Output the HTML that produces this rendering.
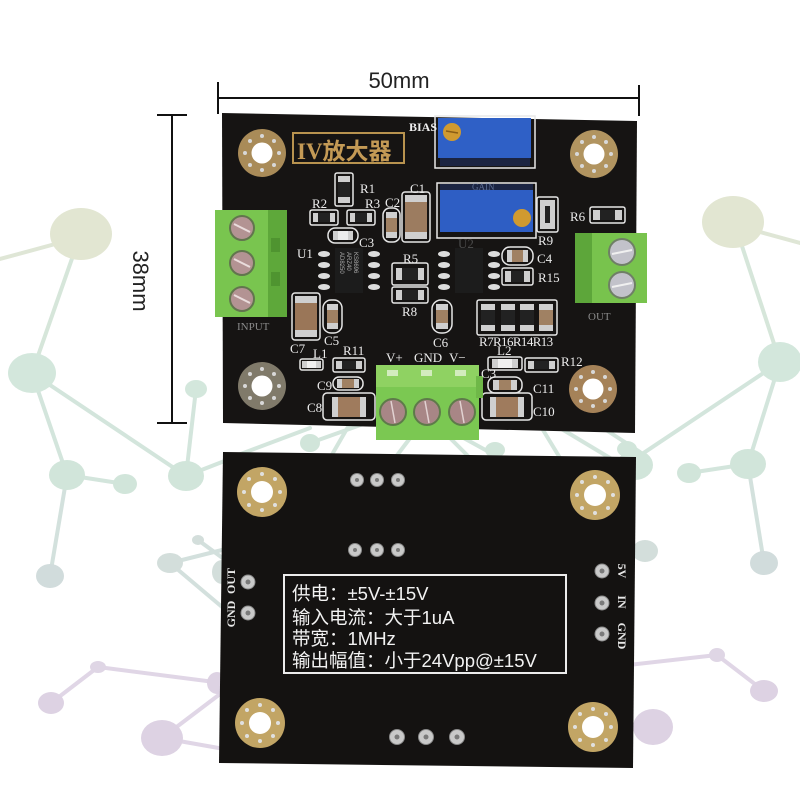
<!DOCTYPE html>
<html>
<head>
<meta charset="utf-8">
<style>
  html,body{margin:0;padding:0;background:#fff;}
  svg{display:block;}
  .lbl{font-family:"Liberation Serif",serif;font-size:13px;fill:#ececec;}
  .sans{font-family:"Liberation Sans","Noto Sans CJK SC",sans-serif;}
</style>
</head>
<body>
<svg width="800" height="800" viewBox="0 0 800 800" xmlns="http://www.w3.org/2000/svg">
  <rect width="800" height="800" fill="#ffffff"/>

  <!-- ===== background network ===== -->
  <g stroke-width="4" stroke-linecap="round" fill="none">
    <!-- left green -->
    <line x1="0" y1="259" x2="70" y2="240" stroke="#dfe6d6"/>
    <line x1="75" y1="250" x2="32" y2="373" stroke="#d6e6da"/>
    <line x1="32" y1="373" x2="67" y2="475" stroke="#d3e5dc"/>
    <line x1="32" y1="373" x2="186" y2="476" stroke="#d3e5dc"/>
    <line x1="67" y1="475" x2="125" y2="484" stroke="#d3e5dc"/>
    <line x1="67" y1="475" x2="50" y2="576" stroke="#d3e1dd"/>
    <line x1="186" y1="476" x2="196" y2="389" stroke="#d3e5dc"/>
    <line x1="186" y1="476" x2="240" y2="455" stroke="#d3e5dc"/>
    <line x1="170" y1="563" x2="230" y2="548" stroke="#d3e0dd"/>
    <line x1="170" y1="563" x2="228" y2="612" stroke="#d3e0dd"/>
    <line x1="198" y1="540" x2="228" y2="562" stroke="#d3e0dd"/>
    <!-- left purple -->
    <line x1="51" y1="703" x2="98" y2="667" stroke="#e0d6e6"/>
    <line x1="98" y1="667" x2="230" y2="684" stroke="#e0d6e6"/>
    <line x1="162" y1="738" x2="228" y2="688" stroke="#e0d6e6"/>
    <line x1="162" y1="738" x2="230" y2="750" stroke="#e0d6e6"/>
    <!-- right green -->
    <line x1="760" y1="232" x2="800" y2="243" stroke="#dfe6d6"/>
    <line x1="740" y1="240" x2="780" y2="362" stroke="#d6e6da"/>
    <line x1="780" y1="362" x2="748" y2="464" stroke="#d3e5dc"/>
    <line x1="780" y1="362" x2="630" y2="462" stroke="#d3e5dc"/>
    <line x1="689" y1="473" x2="748" y2="464" stroke="#d3e5dc"/>
    <line x1="748" y1="464" x2="764" y2="563" stroke="#d3e1dd"/>
    <!-- right purple -->
    <line x1="717" y1="655" x2="764" y2="691" stroke="#e0d6e6"/>
    <line x1="717" y1="655" x2="620" y2="666" stroke="#e0d6e6"/>
    <!-- middle gap lines -->
    <line x1="230" y1="458" x2="310" y2="428" stroke="#d3e5dc"/>
    <line x1="310" y1="443" x2="380" y2="418" stroke="#d3e5dc"/>
    <line x1="330" y1="458" x2="352" y2="420" stroke="#d3e5dc"/>
    <line x1="395" y1="458" x2="420" y2="425" stroke="#d3e5dc"/>
    <line x1="440" y1="425" x2="500" y2="458" stroke="#d3e5dc"/>
    <line x1="470" y1="458" x2="440" y2="428" stroke="#d3e5dc"/>
    <line x1="540" y1="425" x2="560" y2="458" stroke="#d3e5dc"/>
    <line x1="560" y1="428" x2="610" y2="458" stroke="#d3e5dc"/>
    <line x1="600" y1="426" x2="640" y2="452" stroke="#d3e5dc"/>
  </g>
  <g>
    <ellipse cx="81" cy="234" rx="31" ry="26" fill="#e2e6d2"/>
    <ellipse cx="32" cy="373" rx="24" ry="20" fill="#d3e7dc"/>
    <ellipse cx="67" cy="475" rx="18" ry="15" fill="#d1e5da"/>
    <ellipse cx="186" cy="476" rx="18" ry="15" fill="#d1e5da"/>
    <ellipse cx="125" cy="484" rx="12" ry="10" fill="#d1e5da"/>
    <ellipse cx="196" cy="389" rx="11" ry="9" fill="#d3e7dc"/>
    <ellipse cx="50" cy="576" rx="14" ry="12" fill="#d1dcdc"/>
    <ellipse cx="170" cy="563" rx="13" ry="10" fill="#d3dedb"/>
    <ellipse cx="198" cy="540" rx="6" ry="5" fill="#d3dedb"/>
    <ellipse cx="222" cy="572" rx="10" ry="12" fill="#d3dedb"/>
    <ellipse cx="98" cy="667" rx="8" ry="6" fill="#dfd6e5"/>
    <ellipse cx="51" cy="703" rx="13" ry="11" fill="#ddd2e3"/>
    <ellipse cx="162" cy="738" rx="21" ry="18" fill="#ddd2e3"/>
    <ellipse cx="217" cy="683" rx="10" ry="11" fill="#ddd2e3"/>

    <ellipse cx="733" cy="222" rx="31" ry="26" fill="#e2e6d2"/>
    <ellipse cx="780" cy="362" rx="22" ry="20" fill="#d3e7dc"/>
    <ellipse cx="748" cy="464" rx="18" ry="15" fill="#d1e5da"/>
    <ellipse cx="635" cy="465" rx="18" ry="15" fill="#d1e5da"/>
    <ellipse cx="689" cy="473" rx="12" ry="10" fill="#d1e5da"/>
    <ellipse cx="764" cy="563" rx="14" ry="12" fill="#d1dcdc"/>
    <ellipse cx="645" cy="551" rx="13" ry="11" fill="#d3dedb"/>
    <ellipse cx="717" cy="655" rx="8" ry="7" fill="#dfd6e5"/>
    <ellipse cx="764" cy="691" rx="14" ry="11" fill="#ddd2e3"/>
    <ellipse cx="653" cy="727" rx="20" ry="18" fill="#ddd2e3"/>

    <ellipse cx="310" cy="443" rx="10" ry="9" fill="#d1e5da"/>
    <ellipse cx="495" cy="450" rx="10" ry="8" fill="#d1e5da"/>
    <ellipse cx="627" cy="449" rx="10" ry="8" fill="#d1e5da"/>
  </g>

  <!-- ===== dimension lines ===== -->
  <g stroke="#111" stroke-width="2">
    <line x1="218" y1="98" x2="639" y2="98"/>
    <line x1="218" y1="82" x2="218" y2="114"/>
    <line x1="639" y1="85" x2="639" y2="116"/>
    <line x1="172" y1="115" x2="172" y2="423"/>
    <line x1="157" y1="115" x2="187" y2="115"/>
    <line x1="157" y1="423" x2="187" y2="423"/>
  </g>
  <text x="399" y="88" text-anchor="middle" class="sans" font-size="22" fill="#222">50mm</text>
  <text transform="translate(133,281) rotate(90)" text-anchor="middle" class="sans" font-size="22" fill="#222">38mm</text>

  <!-- ===== TOP BOARD ===== -->
  <polygon points="222,113 637,121 635,433 223,423" fill="#161413"/>

  <!-- mounting holes -->
  <g>
    <circle cx="262" cy="153" r="24" fill="#a98b58"/>
    <circle cx="262" cy="153" r="10.5" fill="#fff"/>
    <circle cx="594" cy="154" r="24" fill="#b19460"/>
    <circle cx="594" cy="154" r="10.5" fill="#fff"/>
    <circle cx="262" cy="386" r="24" fill="#807a6a"/>
    <circle cx="262" cy="386" r="10.5" fill="#fff"/>
    <circle cx="593" cy="389" r="24" fill="#a58258"/>
    <circle cx="593" cy="389" r="10.5" fill="#fff"/>
    <g fill="#d8d8d8">
      <circle cx="279" cy="153" r="2"/><circle cx="245" cy="153" r="2"/><circle cx="262" cy="136" r="2"/><circle cx="262" cy="170" r="2"/>
      <circle cx="274" cy="141" r="2"/><circle cx="250" cy="165" r="2"/><circle cx="274" cy="165" r="2"/><circle cx="250" cy="141" r="2"/>
      <circle cx="611" cy="154" r="2"/><circle cx="577" cy="154" r="2"/><circle cx="594" cy="137" r="2"/><circle cx="594" cy="171" r="2"/>
      <circle cx="606" cy="142" r="2"/><circle cx="582" cy="166" r="2"/><circle cx="606" cy="166" r="2"/><circle cx="582" cy="142" r="2"/>
      <circle cx="279" cy="386" r="2"/><circle cx="245" cy="386" r="2"/><circle cx="262" cy="369" r="2"/><circle cx="262" cy="403" r="2"/>
      <circle cx="274" cy="374" r="2"/><circle cx="250" cy="398" r="2"/><circle cx="274" cy="398" r="2"/><circle cx="250" cy="374" r="2"/>
      <circle cx="610" cy="389" r="2"/><circle cx="576" cy="389" r="2"/><circle cx="593" cy="372" r="2"/><circle cx="593" cy="406" r="2"/>
      <circle cx="605" cy="377" r="2"/><circle cx="581" cy="401" r="2"/><circle cx="605" cy="401" r="2"/><circle cx="581" cy="377" r="2"/>
    </g>
  </g>

  <!-- title box -->
  <rect x="293" y="133" width="111" height="30" fill="none" stroke="#b8934f" stroke-width="2"/>
  <text x="297" y="159" font-family="'Liberation Serif','Noto Sans CJK SC',sans-serif" font-size="23" font-weight="bold" fill="#c49a55">IV放大器</text>

  <!-- BIAS pot -->
  <rect x="435" y="116" width="100" height="52" fill="none" stroke="#e8e8e8" stroke-width="1.5"/>
  <rect x="438" y="118" width="93" height="40" fill="#2f60c6"/>
  <rect x="440" y="158" width="90" height="8" fill="#1b2442"/>
  <circle cx="452" cy="132" r="9" fill="#d09a30"/>
  <line x1="446" y1="131" x2="458" y2="133" stroke="#8a5d15" stroke-width="1.5"/>
  <text x="409" y="131" font-family="'Liberation Serif',serif" font-size="12" font-weight="bold" fill="#eee">BIAS</text>

  <!-- GAIN pot -->
  <rect x="437" y="183" width="99" height="55" fill="none" stroke="#e8e8e8" stroke-width="1.5"/>
  <rect x="440" y="190" width="93" height="42" fill="#2e5ec4"/>
  <rect x="440" y="184" width="93" height="6" fill="#1b2442"/>
  <text x="472" y="190" font-family="'Liberation Serif',serif" font-size="9" fill="#5a6a90">GAIN</text>
  <circle cx="522" cy="218" r="9" fill="#d09a30"/>

  <!-- INPUT terminal -->
  <rect x="215" y="210" width="72" height="107" fill="#79c54f"/>
  <rect x="268" y="210" width="19" height="107" fill="#5ea83a"/>
  <rect x="271" y="238" width="9" height="14" fill="#4f9430"/>
  <rect x="271" y="272" width="9" height="14" fill="#4f9430"/>
  <g stroke="#62754e" stroke-width="2">
    <circle cx="242" cy="228" r="12" fill="#b39393"/>
    <circle cx="242" cy="263" r="12" fill="#b39393"/>
    <circle cx="242" cy="299" r="12" fill="#b39393"/>
  </g>
  <g stroke="#eadcdc" stroke-width="2">
    <line x1="234" y1="224" x2="250" y2="232"/>
    <line x1="234" y1="259" x2="250" y2="267"/>
    <line x1="234" y1="295" x2="250" y2="303"/>
  </g>
  <text x="237" y="330" font-family="'Liberation Serif',serif" font-size="11" fill="#8a8a8a">INPUT</text>

  <!-- OUT terminal -->
  <rect x="575" y="233" width="72" height="70" fill="#78c34d"/>
  <rect x="575" y="233" width="17" height="70" fill="#5da63a"/>
  <g stroke="#6f7f66" stroke-width="2">
    <circle cx="622" cy="252" r="13" fill="#c2c2ca"/>
    <circle cx="622" cy="285" r="13" fill="#c2c2ca"/>
  </g>
  <g stroke="#f0f0f0" stroke-width="2">
    <line x1="612" y1="254" x2="632" y2="250"/>
    <line x1="612" y1="287" x2="632" y2="283"/>
  </g>
  <text x="588" y="320" font-family="'Liberation Serif',serif" font-size="11" fill="#8a8a8a">OUT</text>

  <!-- ICs -->
  <g fill="#dcdcdc">
    <ellipse cx="324" cy="254" rx="6" ry="3"/><ellipse cx="324" cy="265" rx="6" ry="3"/><ellipse cx="324" cy="276" rx="6" ry="3"/><ellipse cx="324" cy="287" rx="6" ry="3"/>
    <ellipse cx="374" cy="254" rx="6" ry="3"/><ellipse cx="374" cy="265" rx="6" ry="3"/><ellipse cx="374" cy="276" rx="6" ry="3"/><ellipse cx="374" cy="287" rx="6" ry="3"/>
    <ellipse cx="444" cy="254" rx="6" ry="3"/><ellipse cx="444" cy="265" rx="6" ry="3"/><ellipse cx="444" cy="276" rx="6" ry="3"/><ellipse cx="444" cy="287" rx="6" ry="3"/>
    <ellipse cx="494" cy="254" rx="6" ry="3"/><ellipse cx="494" cy="265" rx="6" ry="3"/><ellipse cx="494" cy="276" rx="6" ry="3"/><ellipse cx="494" cy="287" rx="6" ry="3"/>
  </g>
  <rect x="335" y="248" width="28" height="45" fill="#1c1c1c"/>
  <text transform="translate(340,252) rotate(90)" font-family="'Liberation Sans',sans-serif" font-size="6" fill="#aaa">AD8250</text>
  <text transform="translate(347,252) rotate(90)" font-family="'Liberation Sans',sans-serif" font-size="6" fill="#aaa">ARZ40</text>
  <text transform="translate(354,252) rotate(90)" font-family="'Liberation Sans',sans-serif" font-size="6" fill="#aaa">KS8696</text>
  <rect x="455" y="248" width="28" height="45" fill="#1c1c1c"/>

  <!-- passives: outlines -->
  <g fill="none" stroke="#e6e6e6" stroke-width="1.5">
    <rect x="335" y="173" width="18" height="33" rx="2"/>
    <rect x="310" y="210" width="28" height="15" rx="2"/>
    <rect x="347" y="210" width="28" height="15" rx="2"/>
    <rect x="328" y="228" width="30" height="15" rx="7"/>
    <rect x="383" y="208" width="17" height="34" rx="7"/>
    <rect x="402" y="192" width="28" height="50" rx="3"/>
    <rect x="537" y="197" width="21" height="35" rx="2"/>
    <rect x="590" y="207" width="35" height="16" rx="2"/>
    <rect x="502" y="247" width="31" height="18" rx="8"/>
    <rect x="502" y="268" width="31" height="17" rx="2"/>
    <rect x="392" y="263" width="36" height="22" rx="2"/>
    <rect x="392" y="287" width="36" height="16" rx="2"/>
    <rect x="432" y="300" width="20" height="33" rx="9"/>
    <rect x="292" y="293" width="28" height="47" rx="3"/>
    <rect x="323" y="300" width="19" height="33" rx="8"/>
    <rect x="477" y="300" width="80" height="35" rx="2"/>
    <rect x="300" y="359" width="23" height="11" rx="2"/>
    <rect x="333" y="358" width="32" height="14" rx="2"/>
    <rect x="333" y="377" width="30" height="13" rx="6"/>
    <rect x="323" y="393" width="52" height="27" rx="4"/>
    <rect x="488" y="357" width="34" height="13" rx="2"/>
    <rect x="525" y="358" width="33" height="14" rx="2"/>
    <rect x="488" y="377" width="34" height="16" rx="7"/>
    <rect x="482" y="393" width="50" height="27" rx="4"/>
  </g>
  <!-- pads -->
  <g fill="#cfcfcf">
    <rect x="338" y="176" width="12" height="27"/>
    <rect x="313" y="213" width="22" height="9"/>
    <rect x="350" y="213" width="22" height="9"/>
    <rect x="333" y="231" width="20" height="9"/>
    <rect x="386" y="212" width="11" height="26"/>
    <rect x="405" y="195" width="22" height="44"/>
    <rect x="540" y="200" width="15" height="29"/>
    <rect x="593" y="210" width="29" height="10"/>
    <rect x="507" y="250" width="21" height="12"/>
    <rect x="505" y="271" width="25" height="11"/>
    <rect x="396" y="268" width="28" height="12"/>
    <rect x="396" y="290" width="28" height="10"/>
    <rect x="436" y="304" width="12" height="25"/>
    <rect x="295" y="296" width="22" height="41"/>
    <rect x="327" y="304" width="11" height="25"/>
    <rect x="481" y="304" width="14" height="27"/>
    <rect x="501" y="304" width="14" height="27"/>
    <rect x="520" y="304" width="14" height="27"/>
    <rect x="539" y="304" width="14" height="27"/>
    <rect x="302" y="361" width="19" height="7"/>
    <rect x="336" y="361" width="26" height="8"/>
    <rect x="337" y="379" width="22" height="9"/>
    <rect x="332" y="397" width="34" height="20"/>
    <rect x="492" y="359" width="26" height="9"/>
    <rect x="528" y="361" width="27" height="8"/>
    <rect x="493" y="380" width="24" height="10"/>
    <rect x="490" y="397" width="34" height="20"/>
  </g>
  <!-- resistor bodies -->
  <g fill="#222">
    <rect x="338" y="182" width="12" height="15"/>
    <rect x="318" y="213" width="12" height="9"/>
    <rect x="355" y="213" width="12" height="9"/>
    <rect x="545" y="206" width="5" height="17"/>
    <rect x="600" y="210" width="15" height="10"/>
    <rect x="511" y="271" width="13" height="11"/>
    <rect x="402" y="268" width="16" height="12"/>
    <rect x="402" y="290" width="16" height="10"/>
    <rect x="481" y="310" width="14" height="15"/>
    <rect x="501" y="310" width="14" height="15"/>
    <rect x="520" y="310" width="14" height="15"/>
    <rect x="342" y="361" width="14" height="8"/>
    <rect x="534" y="361" width="15" height="8"/>
  </g>
  <!-- cap bodies -->
  <g fill="#a08163">
    <rect x="386" y="218" width="11" height="14"/>
    <rect x="405" y="202" width="22" height="30" fill="#9c7c60"/>
    <rect x="512" y="250" width="11" height="12"/>
    <rect x="436" y="310" width="12" height="13"/>
    <rect x="295" y="303" width="22" height="27" fill="#9a7658"/>
    <rect x="327" y="310" width="11" height="13"/>
    <rect x="539" y="310" width="14" height="15"/>
    <rect x="342" y="379" width="12" height="9"/>
    <rect x="338" y="397" width="22" height="20" fill="#9f7b5d"/>
    <rect x="499" y="380" width="12" height="10"/>
    <rect x="496" y="397" width="22" height="20" fill="#9f7b5d"/>
  </g>
  <rect x="338" y="231" width="10" height="9" fill="#ececec"/>
  <rect x="307" y="361" width="9" height="7" fill="#f0f0f0"/>
  <rect x="498" y="359" width="14" height="9" fill="#f0f0f0"/>

  <!-- bottom terminal -->
  <rect x="376" y="365" width="103" height="75" fill="#7bc852"/>
  <rect x="376" y="365" width="103" height="22" fill="#8fd262"/>
  <rect x="476" y="376" width="7" height="22" fill="#6fb848"/>
  <g fill="#d2ecbe">
    <rect x="387" y="370" width="11" height="6"/>
    <rect x="421" y="370" width="11" height="6"/>
    <rect x="455" y="370" width="11" height="6"/>
  </g>
  <g stroke="#5e7a4a" stroke-width="2" fill="#a88686">
    <circle cx="393" cy="412" r="13"/>
    <circle cx="427" cy="412" r="13"/>
    <circle cx="462" cy="412" r="13"/>
  </g>
  <g stroke="#e2d2d2" stroke-width="1.5">
    <line x1="391" y1="401" x2="395" y2="423"/>
    <line x1="425" y1="401" x2="429" y2="423"/>
    <line x1="460" y1="401" x2="464" y2="423"/>
  </g>

  <!-- labels -->
  <g class="lbl">
    <text x="360" y="193">R1</text>
    <text x="312" y="208">R2</text>
    <text x="365" y="208">R3</text>
    <text x="385" y="207">C2</text>
    <text x="410" y="193">C1</text>
    <text x="359" y="247">C3</text>
    <text x="297" y="258">U1</text>
    <text x="458" y="248" fill="#4a4a4a">U2</text>
    <text x="403" y="263">R5</text>
    <text x="402" y="316">R8</text>
    <text x="433" y="347">C6</text>
    <text x="290" y="353">C7</text>
    <text x="324" y="345">C5</text>
    <text x="479" y="346" letter-spacing="-0.6">R7R16R14R13</text>
    <text x="313" y="358">L1</text>
    <text x="343" y="355">R11</text>
    <text x="317" y="390">C9</text>
    <text x="307" y="412">C8</text>
    <text x="497" y="355">L2</text>
    <text x="561" y="366">R12</text>
    <text x="533" y="393">C11</text>
    <text x="533" y="416">C10</text>
    <text x="537" y="263">C4</text>
    <text x="538" y="282">R15</text>
    <text x="538" y="245">R9</text>
    <text x="570" y="221">R6</text>
    <text x="386" y="362">V+</text>
    <text x="414" y="362">GND</text>
    <text x="449" y="362">V−</text>
    <text x="481" y="378">C3</text>
  </g>

  <!-- ===== BOTTOM BOARD ===== -->
  <polygon points="223,452 636,457 633,768 219,763" fill="#141211"/>

  <g>
    <circle cx="262" cy="492" r="25" fill="#c2a565"/>
    <circle cx="262" cy="492" r="11" fill="#fff"/>
    <circle cx="595" cy="495" r="25" fill="#c2a565"/>
    <circle cx="595" cy="495" r="11" fill="#fff"/>
    <circle cx="260" cy="723" r="25" fill="#c2a565"/>
    <circle cx="260" cy="723" r="11" fill="#fff"/>
    <circle cx="593" cy="727" r="25" fill="#c2a565"/>
    <circle cx="593" cy="727" r="11" fill="#fff"/>
    <g fill="#e0e0e0">
      <circle cx="280" cy="492" r="2"/><circle cx="244" cy="492" r="2"/><circle cx="262" cy="474" r="2"/><circle cx="262" cy="510" r="2"/>
      <circle cx="275" cy="479" r="2"/><circle cx="249" cy="505" r="2"/><circle cx="275" cy="505" r="2"/><circle cx="249" cy="479" r="2"/>
      <circle cx="613" cy="495" r="2"/><circle cx="577" cy="495" r="2"/><circle cx="595" cy="477" r="2"/><circle cx="595" cy="513" r="2"/>
      <circle cx="608" cy="482" r="2"/><circle cx="582" cy="508" r="2"/><circle cx="608" cy="508" r="2"/><circle cx="582" cy="482" r="2"/>
      <circle cx="278" cy="723" r="2"/><circle cx="242" cy="723" r="2"/><circle cx="260" cy="705" r="2"/><circle cx="260" cy="741" r="2"/>
      <circle cx="273" cy="710" r="2"/><circle cx="247" cy="736" r="2"/><circle cx="273" cy="736" r="2"/><circle cx="247" cy="710" r="2"/>
      <circle cx="611" cy="727" r="2"/><circle cx="575" cy="727" r="2"/><circle cx="593" cy="709" r="2"/><circle cx="593" cy="745" r="2"/>
      <circle cx="606" cy="714" r="2"/><circle cx="580" cy="740" r="2"/><circle cx="606" cy="740" r="2"/><circle cx="580" cy="714" r="2"/>
    </g>
  </g>

  <!-- pads -->
  <g fill="#c9c9c9" stroke="#8a8a8a" stroke-width="1">
    <circle cx="357" cy="480" r="6.5"/><circle cx="377" cy="480" r="6.5"/><circle cx="398" cy="480" r="6.5"/>
    <circle cx="355" cy="550" r="6.5"/><circle cx="377" cy="550" r="6.5"/><circle cx="398" cy="550" r="6.5"/>
    <circle cx="397" cy="737" r="7.5"/><circle cx="426" cy="737" r="7.5"/><circle cx="457" cy="737" r="7.5"/>
    <circle cx="248" cy="582" r="7"/><circle cx="248" cy="613" r="7"/>
    <circle cx="602" cy="571" r="7"/><circle cx="602" cy="603" r="7"/><circle cx="602" cy="634" r="7"/>
  </g>
  <g fill="#7a7a7a">
    <circle cx="357" cy="480" r="2"/><circle cx="377" cy="480" r="2"/><circle cx="398" cy="480" r="2"/>
    <circle cx="355" cy="550" r="2"/><circle cx="377" cy="550" r="2"/><circle cx="398" cy="550" r="2"/>
    <circle cx="397" cy="737" r="2.5"/><circle cx="426" cy="737" r="2.5"/><circle cx="457" cy="737" r="2.5"/>
    <circle cx="248" cy="582" r="2.5"/><circle cx="248" cy="613" r="2.5"/>
    <circle cx="602" cy="571" r="2.5"/><circle cx="602" cy="603" r="2.5"/><circle cx="602" cy="634" r="2.5"/>
  </g>

  <!-- side labels -->
  <g font-family="'Liberation Serif',serif" font-size="12" font-weight="bold" fill="#e8e8e8">
    <text transform="translate(235,581) rotate(-90)" text-anchor="middle">OUT</text>
    <text transform="translate(235,614) rotate(-90)" text-anchor="middle">GND</text>
    <text transform="translate(618,571) rotate(90)" text-anchor="middle">5V</text>
    <text transform="translate(618,602) rotate(90)" text-anchor="middle">IN</text>
    <text transform="translate(618,636) rotate(90)" text-anchor="middle">GND</text>
  </g>

  <!-- spec box -->
  <rect x="284" y="575" width="282" height="98" fill="none" stroke="#ececec" stroke-width="2"/>
  <g font-family="'Liberation Sans','Noto Sans CJK SC',sans-serif" font-size="18.5" fill="#f2f2f2">
    <text x="292" y="600">供电：±5V-±15V</text>
    <text x="292" y="624">输入电流：大于1uA</text>
    <text x="292" y="645">带宽：1MHz</text>
    <text x="292" y="667">输出幅值：小于24Vpp@±15V</text>
  </g>
</svg>
</body>
</html>
